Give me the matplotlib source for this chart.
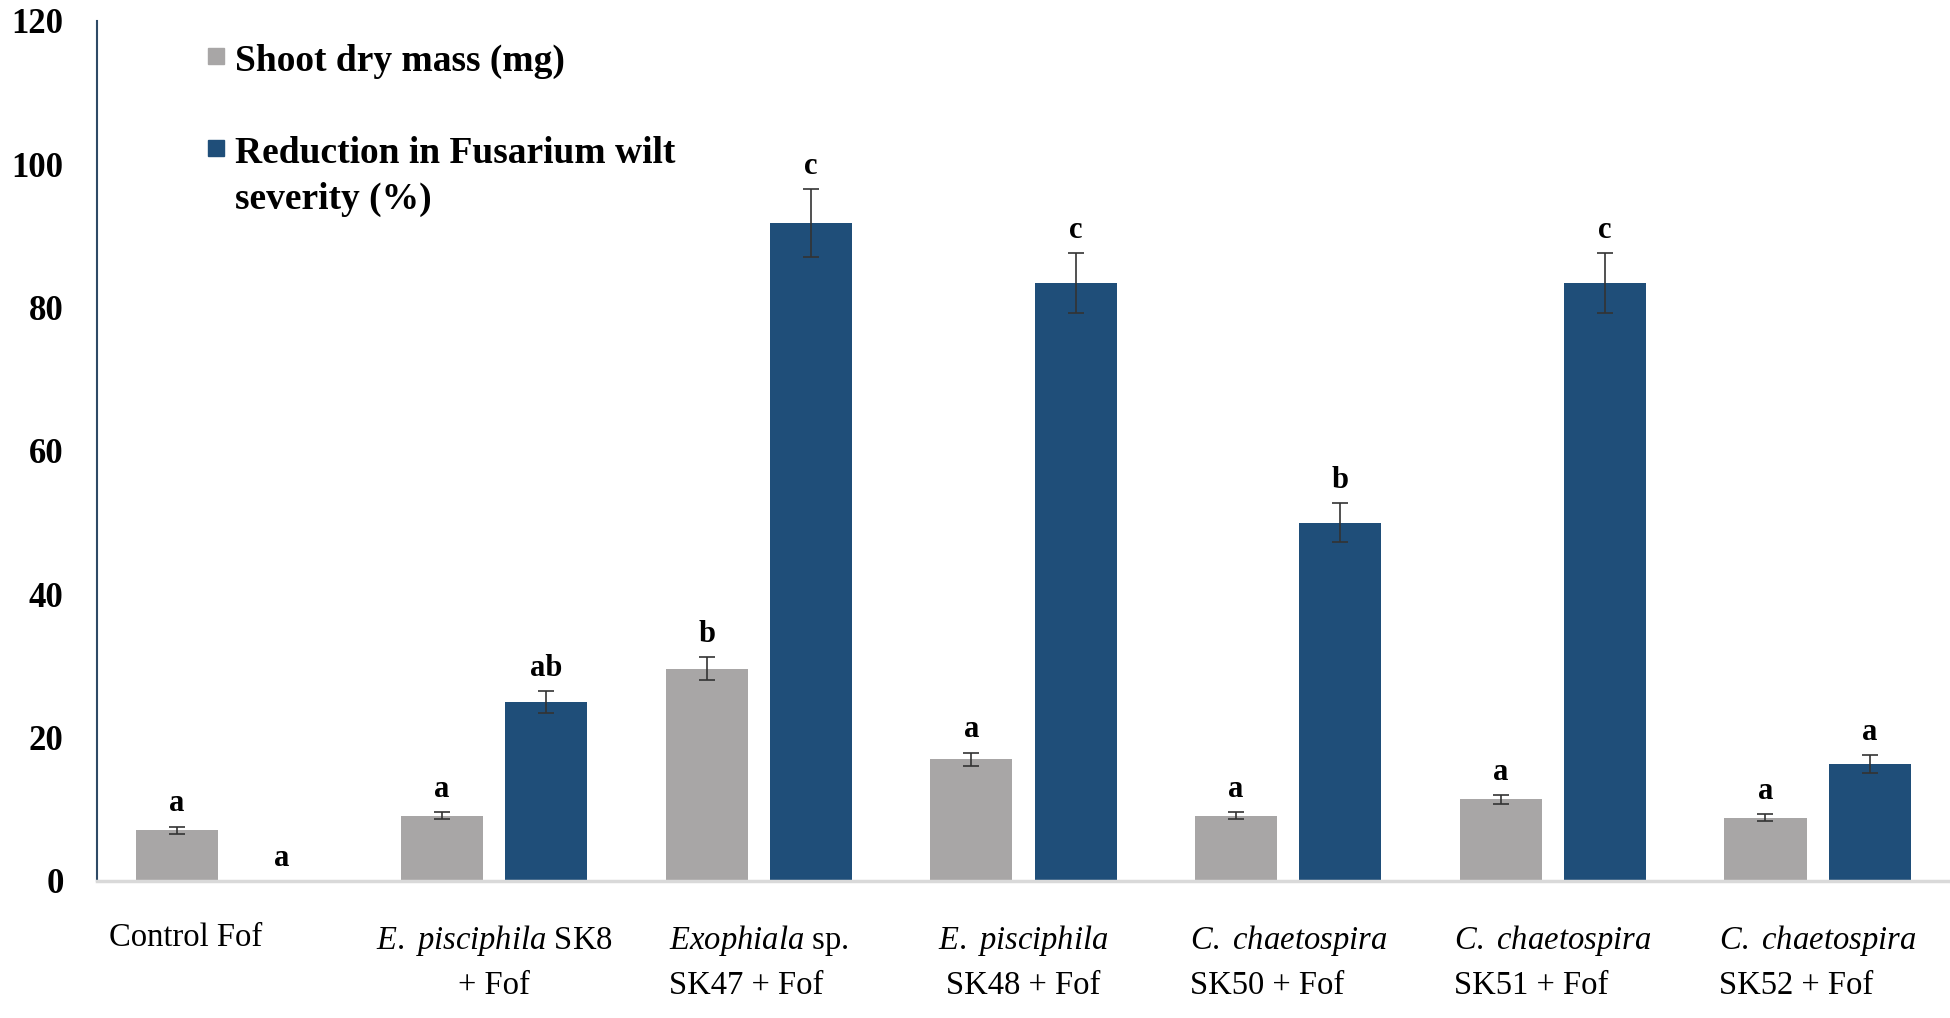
import matplotlib
matplotlib.use("Agg")
import matplotlib.pyplot as plt
import matplotlib.transforms as mtransforms
from matplotlib.patches import Rectangle
import numpy as np

plt.rcParams['font.family'] = ['Liberation Serif', 'DejaVu Serif']
plt.rcParams['mathtext.fontset'] = 'custom'
plt.rcParams['mathtext.rm'] = 'Liberation Serif'
plt.rcParams['mathtext.it'] = 'Liberation Serif:italic'

# trattamenti
trattamenti = [
    "Control Fof",
    r"$\mathit{E.\ pisciphila}$ SK8" + "\n+ Fof",
    r"$\mathit{Exophiala}$ sp." + "\nSK47 + Fof",
    r"$\mathit{E.\ pisciphila}$" + "\nSK48 + Fof",
    r"$\mathit{C.\ chaetospira}$" + "\nSK50 + Fof",
    r"$\mathit{C.\ chaetospira}$" + "\nSK51 + Fof",
    r"$\mathit{C.\ chaetospira}$" + "\nSK52 + Fof",
]

massa_secca = [7.1, 9.1, 29.6, 17.0, 9.1, 11.4, 8.8]
errore_massa = [0.5, 0.5, 1.6, 0.9, 0.5, 0.6, 0.5]
lettere_massa = ["a", "a", "b", "a", "a", "a", "a"]

riduzione = [0.0, 25.0, 91.8, 83.4, 50.0, 83.4, 16.3]
errore_riduzione = [0.0, 1.5, 4.7, 4.2, 2.7, 4.2, 1.3]
lettere_riduzione = ["a", "ab", "c", "c", "b", "c", "a"]

etichette_legenda = ["Shoot dry mass (mg)", "Reduction in Fusarium wilt\nseverity (%)"]

grigio = "#A8A6A6"
blu = "#1F4E79"

fig = plt.figure(figsize=(19.5, 10.18), dpi=100)
ax = fig.add_axes([0.0497, 0.1346, 0.9503, 0.8448])

x = np.arange(len(trattamenti))
larghezza = 0.31
shift = 0.197

ax.bar(x - shift, massa_secca, larghezza, color=grigio, zorder=2)
ax.bar(x + shift, riduzione, larghezza, color=blu, zorder=2)

ax.errorbar(x - shift, massa_secca, yerr=errore_massa, fmt="none",
            ecolor="#333333", elinewidth=1.2, capsize=6, capthick=1.2, zorder=3)
ax.errorbar((x + shift)[1:], riduzione[1:], yerr=errore_riduzione[1:], fmt="none",
            ecolor="#333333", elinewidth=1.2, capsize=6, capthick=1.2, zorder=3)

for i in range(len(trattamenti)):
    ax.annotate(lettere_massa[i], (x[i] - shift, massa_secca[i] + errore_massa[i]),
                xytext=(0, 6), textcoords="offset points", ha="center", va="bottom",
                fontsize=22, fontweight="bold")
    ax.annotate(lettere_riduzione[i], (x[i] + shift, riduzione[i] + errore_riduzione[i]),
                xytext=(0, 6), textcoords="offset points", ha="center", va="bottom",
                fontsize=22, fontweight="bold")

ax.set_xlim(-0.5, 6.5)
ax.set_ylim(0, 120)
ax.set_yticks(np.arange(0, 121, 20))
ax.tick_params(axis="y", length=0, pad=24, labelsize=25)
for t in ax.get_yticklabels():
    t.set_fontweight("bold")

ax.set_xticks(x)
ax.set_xticklabels(trattamenti, fontsize=23.5)
ax.tick_params(axis="x", length=0, pad=30)
for i, t in enumerate(ax.get_xticklabels()):
    t.set_linespacing(1.55)
    if i >= 2 and i != 3:
        t.set_multialignment("left")
# "Control Fof" spostato a sinistra come nell'originale
lab0 = ax.get_xticklabels()[0]
lab0.set_transform(lab0.get_transform() + mtransforms.ScaledTranslation(-0.44, 0, fig.dpi_scale_trans))

ax.spines["top"].set_visible(False)
ax.spines["right"].set_visible(False)
ax.spines["left"].set_color("#2E4A66")
ax.spines["left"].set_linewidth(1.5)
ax.spines["bottom"].set_color("#D9D9D9")
ax.spines["bottom"].set_linewidth(2.5)

# legenda disegnata a mano (quadratino allineato alla prima riga)
W, H = 1950, 1018
for colore, etichetta, cima in zip([grigio, blu], etichette_legenda, [44, 136]):
    fig.patches.append(Rectangle((208 / W, 1 - (cima + 20) / H), 16 / W, 16 / H,
                                 transform=fig.transFigure, color=colore))
    fig.text(235 / W, 1 - cima / H, etichetta, fontsize=27, fontweight="bold",
             va="top", ha="left", linespacing=1.4)

fig.savefig("out.png", dpi=100)
